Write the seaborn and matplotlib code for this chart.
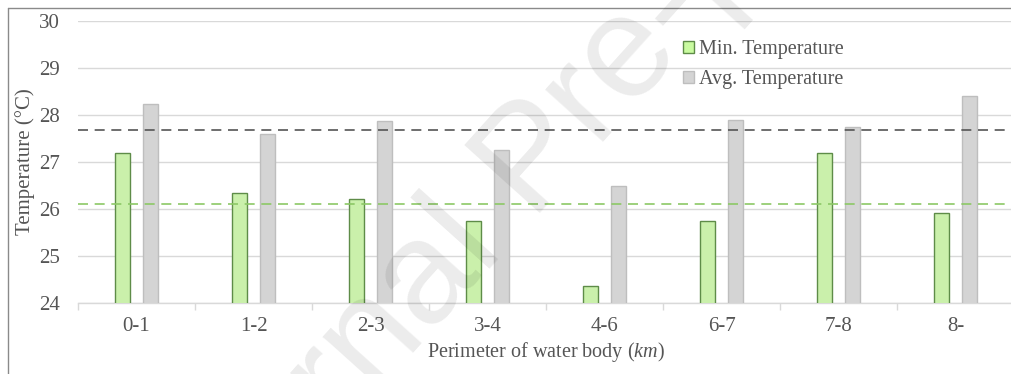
import numpy as np
import pandas as pd
import matplotlib
matplotlib.use("Agg")
import matplotlib.pyplot as plt
import seaborn as sns
from matplotlib.lines import Line2D
from matplotlib.patches import Patch

# Temperature by perimeter class of the water body
categories = ["0-1", "1-2", "2-3", "3-4", "4-6", "6-7", "7-8", "8-"]
min_temp = [27.18, 26.33, 26.21, 25.74, 24.36, 25.74, 27.19, 25.91]
avg_temp = [28.22, 27.60, 27.87, 27.26, 26.49, 27.88, 27.74, 28.41]
series = ["Min. Temperature", "Avg. Temperature"]
min_reference = 26.10
avg_reference = 27.68
y_ticks = [24, 25, 26, 27, 28, 29, 30]

df = pd.DataFrame({
    "Perimeter": categories * 2,
    "Temperature": min_temp + avg_temp,
    "Series": [series[0]] * len(categories) + [series[1]] * len(categories),
})

green_fill, green_edge = "#c9fba0", "#5e8c48"
gray_fill, gray_edge = "#d4d4d4", "#bebebe"
grid_col = "#d9d9d9"
text_col = "#555555"

sns.set_theme(style="white")
plt.rcParams["font.family"] = ["Liberation Serif", "DejaVu Serif"]
plt.rcParams["mathtext.fontset"] = "custom"
plt.rcParams["mathtext.rm"] = "Liberation Serif"
plt.rcParams["mathtext.it"] = "Liberation Serif:italic"

fig = plt.figure(figsize=(10.11, 3.74), dpi=100)
ax = fig.add_axes([0.0772, 0.1898, 0.9258, 0.7549])

sns.barplot(data=df, x="Perimeter", y="Temperature", hue="Series",
            order=categories, hue_order=series,
            palette=[green_fill, gray_fill], width=0.48, gap=0.47,
            linewidth=1.0, ax=ax, zorder=3, legend=False)
for bars, ec in zip(ax.containers, [green_edge, gray_edge]):
    for b in bars:
        b.set_edgecolor(ec)

ax.axhline(avg_reference, color="#555555", lw=1.2, ls=(0, (6, 4)), zorder=4)
ax.axhline(min_reference, color="#8cc866", lw=1.2, ls=(0, (6, 4)), zorder=4)

ax.set_ylim(24, 30)
ax.set_xlim(-0.5, 7.5)
ax.set_yticks(y_ticks)
ax.yaxis.grid(True, color=grid_col, lw=1.0, zorder=0)
ax.set_axisbelow(True)
for s in ["top", "left", "right"]:
    ax.spines[s].set_visible(False)
ax.spines["bottom"].set_color(grid_col)
ax.spines["bottom"].set_linewidth(1.0)

ax.set_xticks(np.arange(len(categories)))
ax.set_xticklabels(categories)
ax.set_xticks(np.arange(len(categories)) - 0.5, minor=True)
ax.tick_params(axis="x", which="major", length=0, pad=10, labelsize=15, labelcolor=text_col)
ax.tick_params(axis="x", which="minor", length=5, width=1, color=grid_col, bottom=True)
ax.tick_params(axis="y", length=0, pad=13, labelsize=15, labelcolor=text_col)

ax.set_xlabel(r"Perimeter of water body ($\mathit{km}$)", fontsize=14.5, color=text_col, labelpad=3)
ax.set_ylabel("Temperature (°C)", fontsize=15, color=text_col, labelpad=3)

handles = [Patch(facecolor=green_fill, edgecolor=green_edge, lw=1.0),
           Patch(facecolor=gray_fill, edgecolor=gray_edge, lw=1.0)]
leg = ax.legend(handles, series, loc="upper left", bbox_to_anchor=(0.627, 0.995),
                frameon=False, fontsize=14.5, handlelength=0.55, handleheight=0.55,
                handletextpad=0.25, labelspacing=0.55, labelcolor=text_col)

# outer frame (top and left edges)
fig.add_artist(Line2D([8 / 1011, 8 / 1011], [0, 1 - 8 / 374], transform=fig.transFigure,
                      color="#8a8a8a", lw=1.0))
fig.add_artist(Line2D([8 / 1011, 1], [1 - 8 / 374, 1 - 8 / 374], transform=fig.transFigure,
                      color="#8a8a8a", lw=1.0))

# watermark
fig.text(0.183, -0.623, "Journal Pre-proof", rotation=48, rotation_mode="anchor",
         ha="left", va="baseline", fontsize=105, family="Liberation Sans",
         color="black", alpha=0.08, zorder=20)

fig.savefig("out.png", dpi=100)
